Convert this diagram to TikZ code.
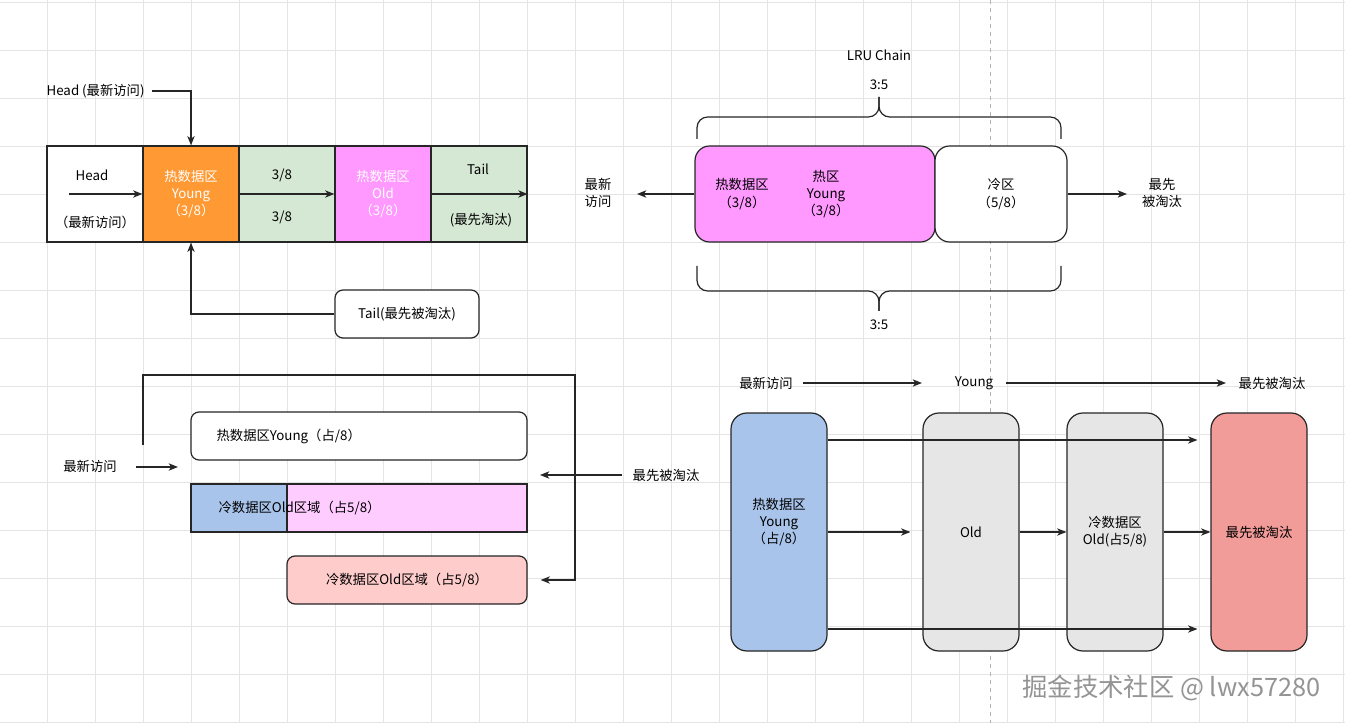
\documentclass[tikz,border=0pt]{standalone}
\usepackage{fontspec}
\setmainfont{Noto Sans CJK SC}
\usepackage{xcolor}
\usetikzlibrary{arrows.meta,positioning}

\definecolor{hotorange}{HTML}{FF9933}
\definecolor{cellgreen}{HTML}{D5E8D4}
\definecolor{oldpink}{HTML}{FF99FF}
\definecolor{lightpink}{HTML}{FFCCFF}
\definecolor{youngblue}{HTML}{A9C4EB}
\definecolor{coldred}{HTML}{FFCCCC}
\definecolor{evictred}{HTML}{F19C99}
\definecolor{oldgray}{HTML}{E6E6E6}
\definecolor{gridgray}{HTML}{E4E4E4}

\begin{document}
\begin{tikzpicture}[
  x=0.75pt, y=-0.75pt,
  font=\fontsize{10}{13}\selectfont,
  >={Stealth[length=7pt,width=5.5pt,inset=2pt]},
  cell/.style={draw=black!85, line width=0.9pt, minimum width=72pt, minimum height=72pt,
               inner sep=0pt, align=center},
  zone/.style={draw=black!85, line width=0.9pt, rounded corners=11pt, minimum height=72pt,
               inner sep=0pt, align=center},
  bar/.style={draw=black!85, line width=0.9pt, minimum height=36pt, inner sep=0pt},
  pill/.style={bar, rounded corners=6pt},
  col/.style={draw=black!85, line width=0.9pt, rounded corners=12pt, minimum width=72pt,
              minimum height=178.5pt, inner sep=0pt, align=center},
  flow/.style={->, line width=0.9pt, draw=black!85},
  brace/.style={line width=0.9pt, draw=black!85, rounded corners=8pt},
  gridline/.style={draw=gridgray, line width=0.6pt},
  lbl/.style={inner sep=1pt, align=center}
]
\fill[white] (0,0) rectangle (1345,723);
\useasboundingbox (0,0) rectangle (1345,723);
\foreach \gx in {-1,47,...,1343} \draw[gridline] (\gx,0) -- (\gx,723);
\foreach \gy in {2,50,...,722} \draw[gridline] (0,\gy) -- (1345,\gy);
\draw[black!30, line width=0.6pt, dash pattern=on 3pt off 3pt] (990,0) -- (990,723);

% chain with head and tail
\node[cell, fill=white]                 (head)  at (95,194)  {};
\node[cell, fill=hotorange, text=white] (young) at (191,194) {热数据区\\Young\\（3/8）};
\node[cell, fill=cellgreen]             (mid)   at (287,194) {};
\node[cell, fill=oldpink, text=white]   (old)   at (383,194) {热数据区\\Old\\（3/8）};
\node[cell, fill=cellgreen]             (tail)  at (479,194) {};
\node[lbl] (headtxt) at (92,175)  {Head};
\node[lbl] (headsub) at (95,222)  {（最新访问）};
\node[lbl] (midtop)  at (282,175) {3/8};
\node[lbl] (midbot)  at (282,217) {3/8};
\node[lbl] (tailtxt) at (478,169) {Tail};
\node[lbl] (tailsub) at (481,220) {(最先淘汰)};
\coordinate (headin) at (69,194);
\draw[flow] (headin) -- (young.west);
\draw[flow] (young.east) -- (old.west);
\draw[flow] (tail.west) -- (tail.east);
\node[lbl, anchor=west] (headptr) at (45,91) {Head (最新访问)};
\draw[flow] ([xshift=4pt]headptr.east) -| (young.north);
\node[pill, fill=white, minimum width=108pt] (tailbox) at (407,314) {Tail(最先被淘汰)};
\draw[flow] (tailbox.west) -| (young.south);

% LRU chain split
\node[lbl] (lru)      at (879,55) {LRU Chain};
\node[lbl] (ratiotop) at (879,85) {3:5};
\node[zone, fill=oldpink, minimum width=180pt] (hot)  at (815,194)  {};
\node[zone, fill=white, minimum width=99pt]    (cold) at (1001,194) {冷区\\（5/8）};
\node[lbl] (hotl) at (742,194) {热数据区\\（3/8）};
\node[lbl] (hotr) at (826,194) {热区\\Young\\（3/8）};
\draw[brace] (697,139) -- (697,117) -- (879,117) -- (879,97);
\draw[brace] (1061,139) -- (1061,117) -- (879,117) -- (879,97);
\draw[brace] (697,266) -- (697,291) -- (879,291) -- (879,311);
\draw[brace] (1061,266) -- (1061,291) -- (879,291) -- (879,311);
\node[lbl] (ratiobot) at (879,325) {3:5};
\node[lbl] (newest)   at (598,193)  {最新\\访问};
\node[lbl] (evictout) at (1162,193) {最先\\被淘汰};
\coordinate (newend)   at (637,194);
\coordinate (evictend) at (1127,194);
\draw[flow] (hot.west) -- (newend);
\draw[flow] (cold.east) -- (evictend);

% bars with loop back
\node[pill, fill=white, minimum width=252pt]  (youngbar) at (359,436) {};
\node[lbl, anchor=west] (youngtxt) at (215,436) {热数据区Young（占/8）};
\node[bar, fill=youngblue, minimum width=72pt]  (coldhead) at (239,508) {};
\node[bar, fill=lightpink, minimum width=180pt] (coldrest) at (407,508) {};
\node[lbl, anchor=west] (coldtxt) at (217,508) {冷数据区Old区域（占5/8）};
\node[pill, fill=coldred, minimum width=180pt] (coldbar) at (407,580) {冷数据区Old区域（占5/8）};
\node[lbl] (newin)   at (90,466)  {最新访问};
\node[lbl] (evictin) at (666,475) {最先被淘汰};
\coordinate (newfrom)   at (136,467);
\coordinate (newto)     at (178,467);
\coordinate (evictfrom) at (622,475);
\coordinate (evictto)   at (540,475);
\draw[flow] (newfrom) -- (newto);
\draw[flow] (evictfrom) -- (evictto);
\coordinate (loopstart)  at (143,445);
\coordinate (loopcorner) at (575,375);
\draw[flow, shorten >=9.75pt] (loopstart) |- (loopcorner) |- (coldbar.east);

% columns
\node[lbl] (colnew)   at (766,383)  {最新访问};
\node[lbl] (colyoung) at (974,383)  {Young};
\node[lbl] (colevict) at (1272,383) {最先被淘汰};
\coordinate (arr1from) at (803,383);
\coordinate (arr1to)   at (922,383);
\coordinate (arr2from) at (1006,383);
\coordinate (arr2to)   at (1226,383);
\draw[flow] (arr1from) -- (arr1to);
\draw[flow] (arr2from) -- (arr2to);
\node[col, fill=youngblue] (ycol) at (779,532)  {};
\node[lbl] (ycoltxt) at (779,522) {热数据区\\Young\\（占/8）};
\node[col, fill=oldgray]   (ocol) at (971,532)  {Old};
\node[col, fill=oldgray]   (ccol) at (1115,532) {冷数据区\\Old(占5/8)};
\node[col, fill=evictred]  (ecol) at (1259,532) {最先被淘汰};
\draw[flow, shorten >=9pt] (ycol) -- (ocol);
\draw[flow] (ocol) -- (ccol);
\draw[flow] (ccol) -- (ecol);
\draw[flow, shorten >=9.75pt] ([yshift=69pt]ycol.east) -- ([yshift=69pt]ecol.west);
\draw[flow, shorten >=9.75pt] ([yshift=-72.75pt]ycol.east) -- ([yshift=-72.75pt]ecol.west);

\node[font=\fontsize{19}{19}\selectfont, text=black!42, anchor=east] (mark) at (1325,688)
  {掘金技术社区 @ lwx57280};
\end{tikzpicture}
\end{document}
